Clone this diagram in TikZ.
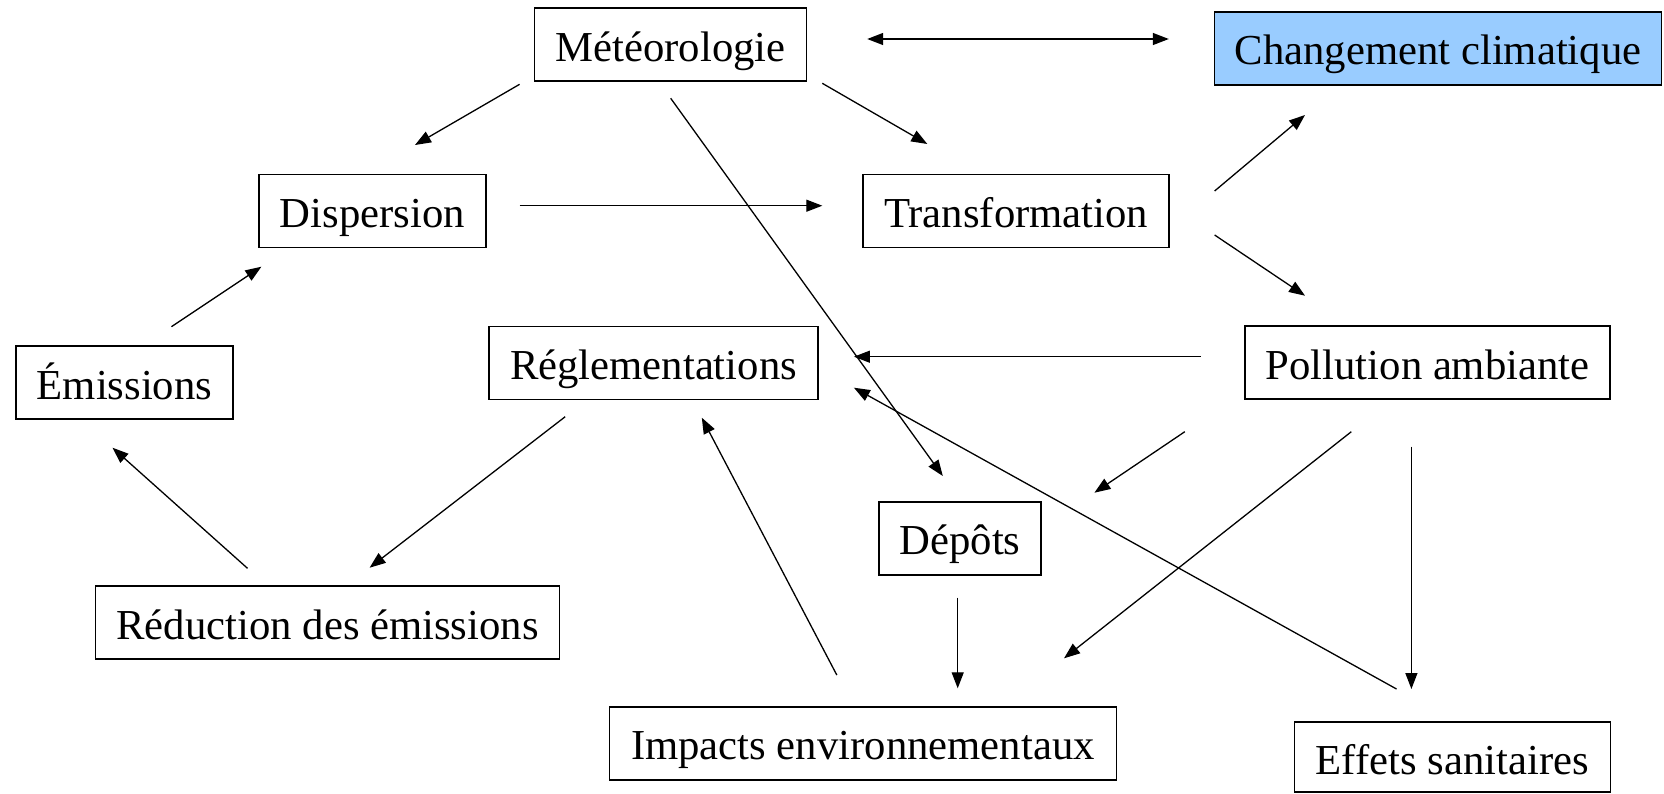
\documentclass[tikz,border=0pt]{standalone}
\usepackage{fontspec}
\setmainfont{Liberation Serif}
\usetikzlibrary{arrows.meta}
\definecolor{chgblue}{HTML}{99CCFF}
\begin{document}
\begin{tikzpicture}[x=1pt,y=-1pt,
  box/.style={draw, line width=1.6pt, inner sep=0pt, text height=53pt, text depth=20pt, font=\fontsize{42.7}{48}\selectfont},
  conn/.style={line width=1.3pt, -{Triangle[length=16pt,width=12pt]}},
  dconn/.style={line width=1.3pt, {Triangle[length=16pt,width=12pt]}-{Triangle[length=16pt,width=12pt]}}]
\useasboundingbox (0,0) rectangle (1664,793);
% nodes
\node[box, minimum width=272pt] (meteo) at (670.5,44.7) {Météorologie};
\node[box, fill=chgblue, minimum width=447pt] (chg) at (1438,48.3) {Changement climatique};
\node[box, minimum width=227pt] (disp) at (372.3,211) {Dispersion};
\node[box, minimum width=306pt] (trans) at (1016.2,211) {Transformation};
\node[box, minimum width=217pt] (emis) at (124.5,382.7) {Émissions};
\node[box, minimum width=329pt] (regl) at (653.5,362.8) {Réglementations};
\node[box, minimum width=365pt] (poll) at (1427.6,362.5) {Pollution ambiante};
\node[box, minimum width=464pt] (red) at (327.6,622.7) {Réduction des émissions};
\node[box, minimum width=162pt] (dep) at (960,538.3) {Dépôts};
\node[box, minimum width=507pt] (imp) at (862.9,743.3) {Impacts environnementaux};
\node[box, minimum width=316pt, text height=52pt, text depth=18pt] (eff) at (1452.3,757) {Effets sanitaires};
% connector end points
\coordinate (dA) at (867.2,39);   \coordinate (dB) at (1168.8,39);
\coordinate (m1) at (519.6,84.3);  \coordinate (m1t) at (415,145);
\coordinate (m2) at (822.3,83.3);  \coordinate (m2t) at (927.3,144);
\coordinate (m3) at (670.7,98.3);  \coordinate (m3t) at (942.8,476);
\coordinate (e1) at (171.4,326.7); \coordinate (e1t) at (261.4,266.7);
\coordinate (d1) at (519.6,205.7); \coordinate (d1t) at (822.3,205.7);
\coordinate (t1) at (1214.6,191);  \coordinate (t1t) at (1305,115);
\coordinate (t2) at (1214.6,235);  \coordinate (t2t) at (1305,295.7);
\coordinate (p1) at (1200.7,356.7); \coordinate (p1t) at (853.9,356.7);
\coordinate (p2) at (1184.8,431.7); \coordinate (p2t) at (1094.4,492.7);
\coordinate (p3) at (1351.3,431.7); \coordinate (p3t) at (1064,658.3);
\coordinate (p4) at (1411.4,446.7); \coordinate (p4t) at (1411.4,689);
\coordinate (f1) at (1396.5,689);  \coordinate (f1t) at (853.9,387.7);
\coordinate (r1) at (565.2,416.7); \coordinate (r1t) at (369.6,567.7);
\coordinate (q1) at (247.5,568.3); \coordinate (q1t) at (112.5,447.7);
\coordinate (i1) at (836.8,675);   \coordinate (i1t) at (701.8,417.7);
\coordinate (s1) at (957.7,597.7); \coordinate (s1t) at (957.7,688.3);
% connectors
\draw[dconn] (dA) -- (dB);
\draw[conn] (m1) -- (m1t);
\draw[conn] (m2) -- (m2t);
\draw[conn] (m3) -- (m3t);
\draw[conn] (e1) -- (e1t);
\draw[conn] (d1) -- (d1t);
\draw[conn] (t1) -- (t1t);
\draw[conn] (t2) -- (t2t);
\draw[conn] (p1) -- (p1t);
\draw[conn] (p2) -- (p2t);
\draw[conn] (p3) -- (p3t);
\draw[conn] (p4) -- (p4t);
\draw[conn] (f1) -- (f1t);
\draw[conn] (r1) -- (r1t);
\draw[conn] (q1) -- (q1t);
\draw[conn] (i1) -- (i1t);
\draw[conn] (s1) -- (s1t);
\end{tikzpicture}
\end{document}
